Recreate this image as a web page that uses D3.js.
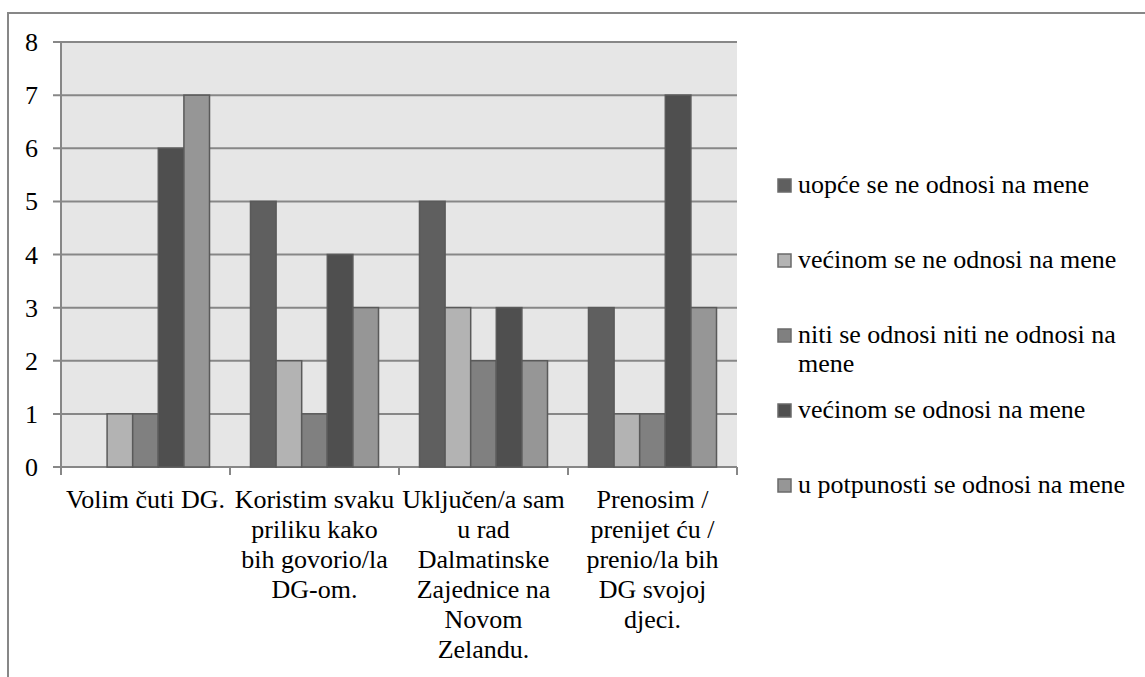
<!DOCTYPE html>
<html>
<head>
<meta charset="utf-8">
<script src="https://cdn.jsdelivr.net/npm/d3@7"></script>
</head>
<body style="margin:0">
<svg id="chart" width="1145" height="677" font-family="Liberation Serif"></svg>
<script>
// categories (x axis) and answer series
var categories = [
  "Volim čuti DG.",
  "Koristim svaku priliku kako bih govorio/la DG-om.",
  "Uključen/a sam u rad Dalmatinske Zajednice na Novom Zelandu.",
  "Prenosim / prenijet ću / prenio/la bih DG svojoj djeci."
];
var seriesNames = [
  "uopće se ne odnosi na mene",
  "većinom se ne odnosi na mene",
  "niti se odnosi niti ne odnosi na mene",
  "većinom se odnosi na mene",
  "u potpunosti se odnosi na mene"
];
// values per series, one per category
var uopce      = [0, 5, 5, 3];
var vecinomNe  = [1, 2, 3, 1];
var niti       = [1, 1, 2, 1];
var vecinom    = [6, 4, 3, 7];
var potpunosti = [7, 3, 2, 3];
var yTicks = [0, 1, 2, 3, 4, 5, 6, 7, 8];

var seriesValues = [uopce, vecinomNe, niti, vecinom, potpunosti];
var colors = ["#5f5f5f", "#b3b3b3", "#808080", "#4f4f4f", "#969696"];
var FONT = "'Liberation Serif'";

var svg = d3.select("#chart");

// outer frame (runs off the right and bottom edges)
svg.append("rect")
  .attr("x", 8).attr("y", 13)
  .attr("width", 1160).attr("height", 700)
  .attr("fill", "none")
  .attr("stroke", "#878787")
  .attr("stroke-width", 2);

var plot = { left: 61, right: 737, top: 42, bottom: 467 };

var x0 = d3.scaleBand()
  .domain(categories)
  .range([plot.left, plot.right])
  .paddingInner(0).paddingOuter(0);

var x1 = d3.scaleBand()
  .domain(d3.range(seriesNames.length))
  .range([0, x0.bandwidth()])
  .paddingOuter(0.8).paddingInner(0);

var y = d3.scaleLinear().domain([0, 8]).range([plot.bottom, plot.top]);

// plot background
svg.append("rect")
  .attr("x", plot.left).attr("y", plot.top)
  .attr("width", plot.right - plot.left)
  .attr("height", plot.bottom - plot.top)
  .attr("fill", "#e6e6e6");

// gridlines
svg.selectAll("line.grid")
  .data(yTicks)
  .enter()
  .append("line")
    .attr("class", "grid")
    .attr("x1", plot.left - 8).attr("x2", plot.right)
    .attr("y1", function(d) { return y(d); })
    .attr("y2", function(d) { return y(d); })
    .attr("stroke", "#878787")
    .attr("stroke-width", 2);

// y axis line
svg.append("line")
  .attr("x1", plot.left).attr("x2", plot.left)
  .attr("y1", plot.top).attr("y2", plot.bottom)
  .attr("stroke", "#878787").attr("stroke-width", 2);

// bars
var groups = svg.selectAll("g.cat")
  .data(categories)
  .enter()
  .append("g")
    .attr("class", "cat")
    .attr("transform", function(d) { return "translate(" + x0(d) + ",0)"; });

groups.selectAll("rect")
  .data(function(d, i) {
    return seriesValues.map(function(s, k) { return { k: k, v: s[i] }; });
  })
  .enter()
  .append("rect")
    .filter(function(d) { return d.v > 0; })
    .attr("x", function(d) { return x1(d.k); })
    .attr("y", function(d) { return y(d.v); })
    .attr("width", x1.bandwidth())
    .attr("height", function(d) { return y(0) - y(d.v); })
    .attr("fill", function(d) { return colors[d.k]; })
    .attr("stroke", "#5a5a5a")
    .attr("stroke-width", 1.5);

// x axis ticks at category boundaries
var bounds = categories.map(function(c) { return x0(c); }).concat([plot.right]);
svg.selectAll("line.xtick")
  .data(bounds)
  .enter()
  .append("line")
    .attr("class", "xtick")
    .attr("x1", function(d) { return d; })
    .attr("x2", function(d) { return d; })
    .attr("y1", plot.bottom).attr("y2", plot.bottom + 8)
    .attr("stroke", "#878787").attr("stroke-width", 2);

// y labels
svg.selectAll("text.ylab")
  .data(yTicks)
  .enter()
  .append("text")
    .attr("class", "ylab")
    .attr("x", 38)
    .attr("y", function(d) { return y(d) + 9; })
    .attr("text-anchor", "end")
    .style("font-family", FONT)
    .style("font-size", "26px")
    .text(function(d) { return d; });

// wrap helper
function wrap(textSel, width, lineHeight) {
  textSel.each(function() {
    var text = d3.select(this),
        words = text.text().split(/\s+/),
        xPos = text.attr("x"),
        line = [],
        tspan = text.text(null).append("tspan").attr("x", xPos).attr("dy", 0);
    words.forEach(function(w) {
      line.push(w);
      tspan.text(line.join(" "));
      if (tspan.node().getComputedTextLength() > width && line.length > 1) {
        line.pop();
        tspan.text(line.join(" "));
        line = [w];
        tspan = text.append("tspan").attr("x", xPos).attr("dy", lineHeight).text(w);
      }
    });
    text.selectAll("tspan")
      .style("font-family", FONT)
      .style("font-size", "26px");
  });
}

// category labels
svg.selectAll("text.xlab")
  .data(categories)
  .enter()
  .append("text")
    .attr("class", "xlab")
    .attr("x", function(d) { return x0(d) + x0.bandwidth() / 2; })
    .attr("y", 508)
    .attr("text-anchor", "middle")
    .style("font-family", FONT)
    .style("font-size", "26px")
    .text(function(d) { return d; })
    .call(wrap, 166, 30);

// legend
svg.selectAll("rect.key")
  .data(seriesNames)
  .enter()
  .append("rect")
    .attr("class", "key")
    .attr("x", 778)
    .attr("y", function(d, i) { return 179 + i * 75; })
    .attr("width", 13).attr("height", 13)
    .attr("fill", function(d, i) { return colors[i]; })
    .attr("stroke", "#6a6a6a")
    .attr("stroke-width", 1.5);

svg.selectAll("text.leg")
  .data(seriesNames)
  .enter()
  .append("text")
    .attr("class", "leg")
    .attr("x", 798)
    .attr("y", function(d, i) { return 193 + i * 75; })
    .style("font-family", FONT)
    .style("font-size", "26px")
    .text(function(d) { return d; })
    .call(wrap, 345, 29);
</script>
</body>
</html>
